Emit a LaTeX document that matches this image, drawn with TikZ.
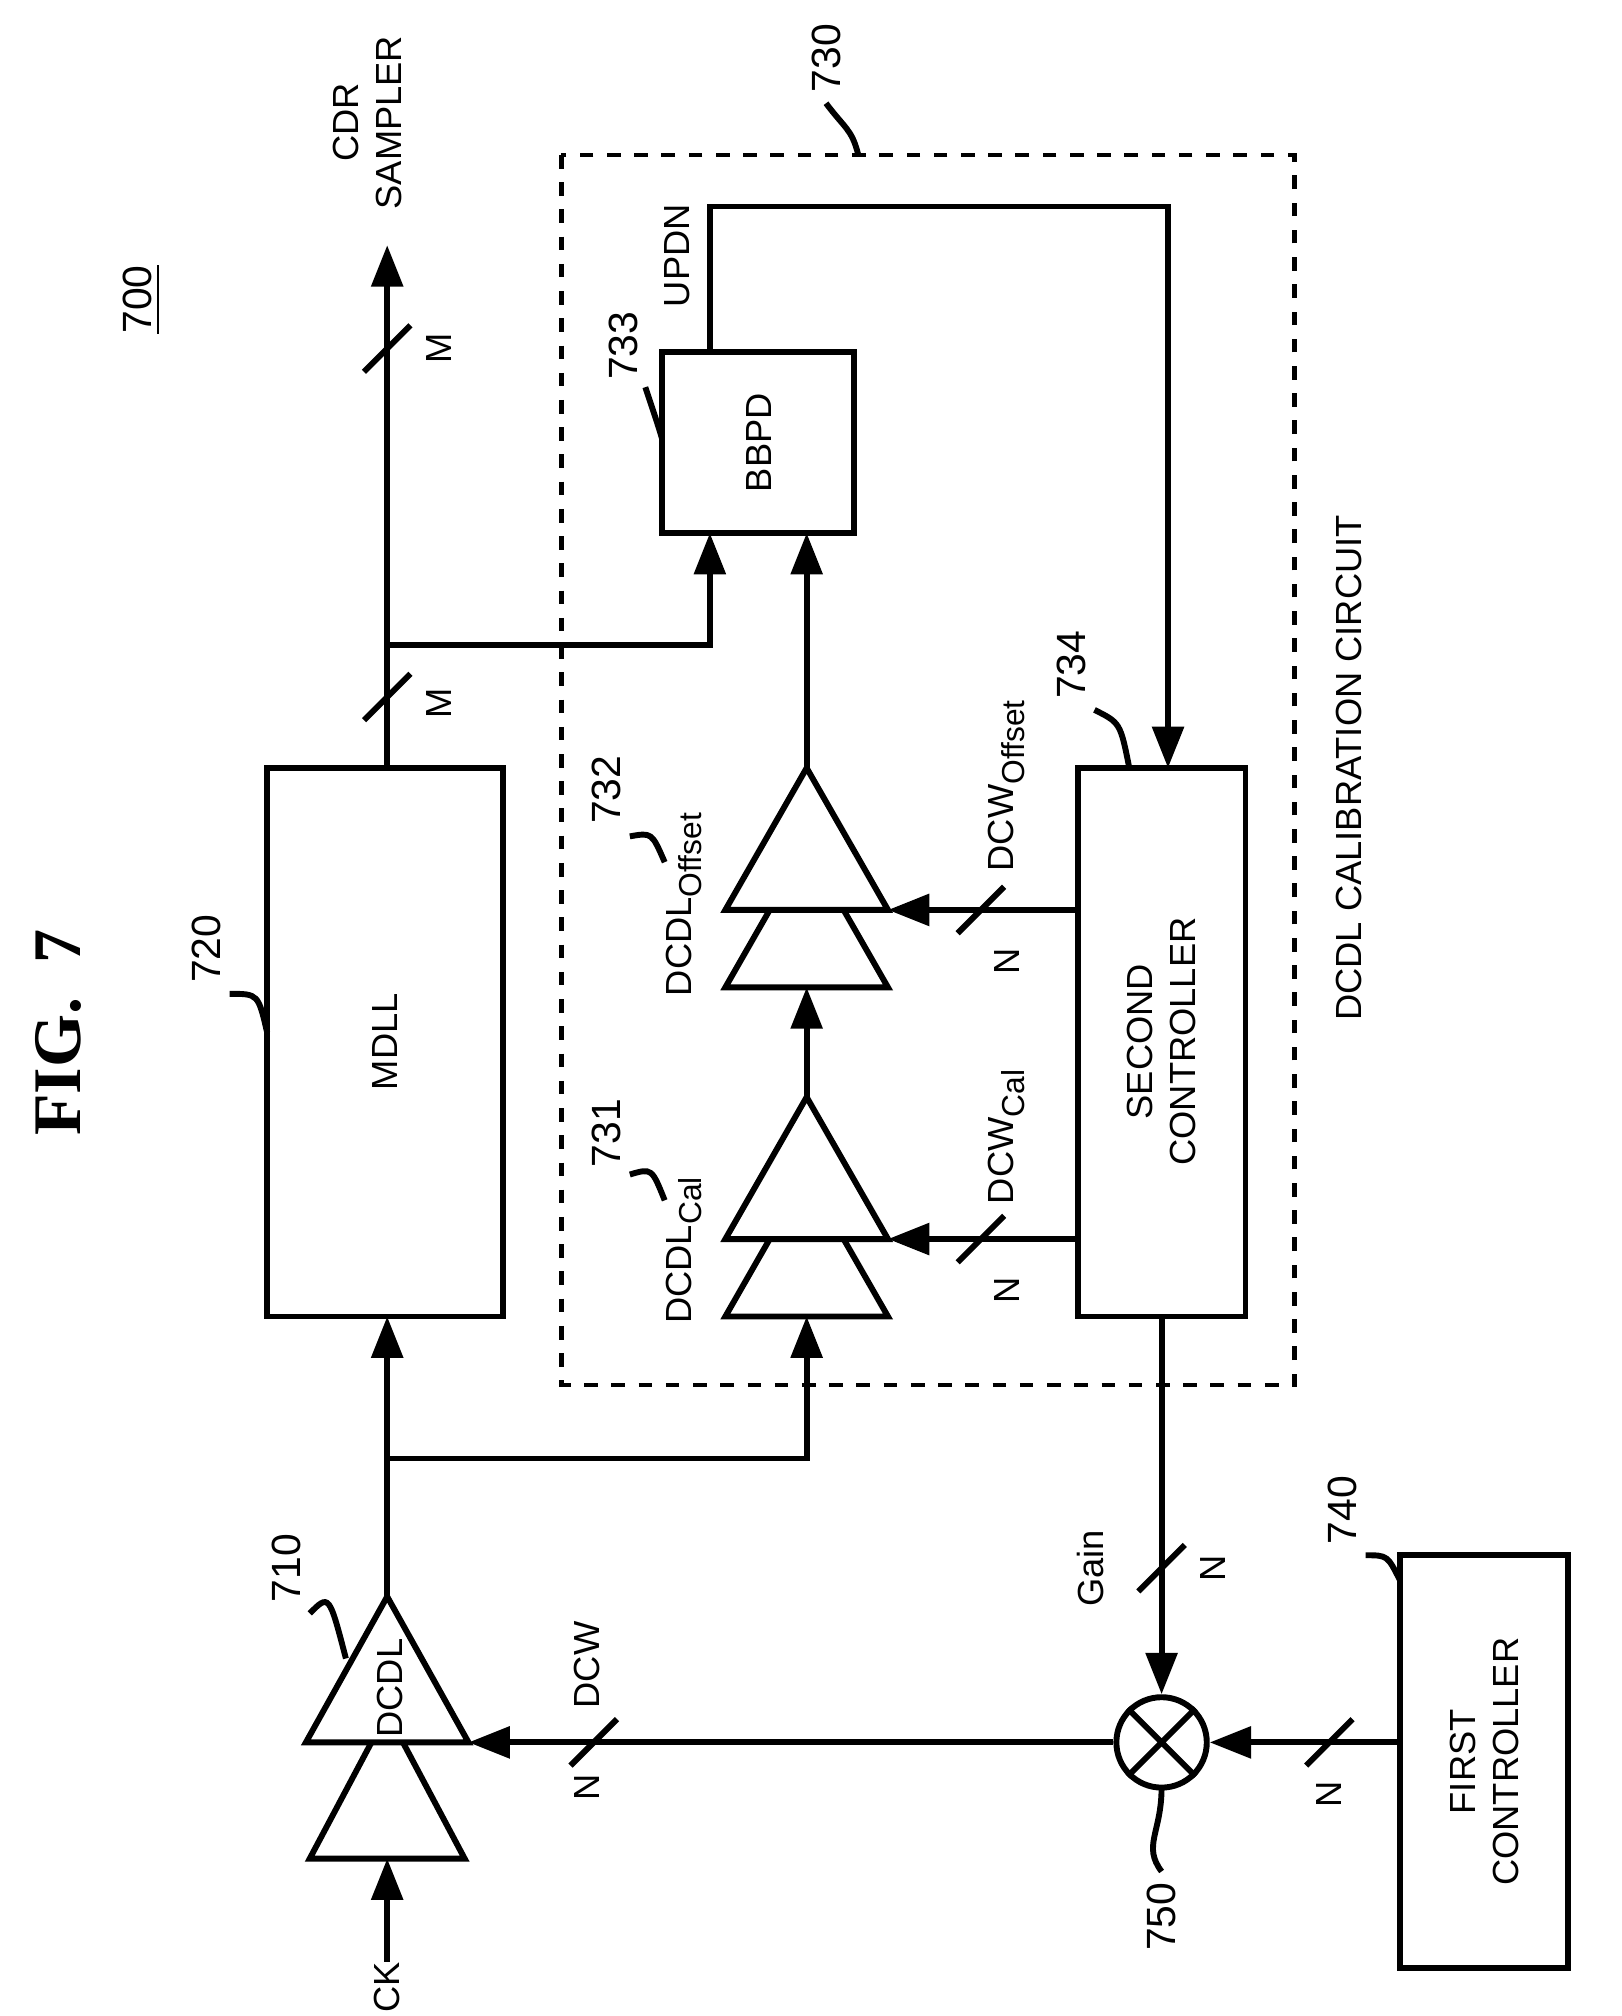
\documentclass[tikz,border=0pt]{standalone}
\usepackage{fontspec}
\setmainfont{Liberation Sans}
\newfontfamily\titlefont{Liberation Serif}
\usetikzlibrary{arrows.meta,calc}
\begin{document}
\begin{tikzpicture}[x=0.01cm,y=0.01cm,line width=1.3pt,
  arr/.style={-{Triangle[length=0.32cm,width=0.24cm]}},
  box/.style={draw,fill=white},
  lbl/.style={rotate=90,font=\footnotesize},
  refn/.style={rotate=90,font=\small},
  tri/.style={draw,fill=white,line join=miter}]
\useasboundingbox (0,0) rectangle (1256,-1562);
% title and figure number
\node[rotate=90,font=\fontsize{15}{15}\titlefont\bfseries\selectfont] (fig) at (45,-800) {FIG.~~7};
\node[refn] (n700) at (110,-232) {\underline{700}};
\node[lbl,align=center] (cdr) at (285,-95) {CDR\\SAMPLER};
% calibration frame
\draw[dashed,line width=1pt] (435,-120) rectangle (1003,-1073);
\node[lbl] (calname) at (1045,-595) {DCDL CALIBRATION CIRCUIT};
% blocks
\draw[box] (207,-595) rectangle (390,-1020);
\node[lbl] (mdll) at (298,-807) {MDLL};
\draw[box] (513,-273) rectangle (662,-413);
\node[lbl] (bbpd) at (588,-343) {BBPD};
\draw[box] (835,-595) rectangle (965,-1020);
\node[lbl,align=center] (sec) at (900,-807) {SECOND\\CONTROLLER};
\draw[box] (1085,-1205) rectangle (1215,-1525);
\node[lbl,align=center] (first) at (1150,-1365) {FIRST\\CONTROLLER};
% delay lines
\draw[tri] (240,-1440) -- (300,-1327) -- (360,-1440) -- cycle;
\draw[tri] (237,-1350) -- (300,-1237) -- (363,-1350) -- cycle;
\node[lbl] (dcdl) at (302,-1308) {DCDL};
\foreach \y in {850,595}{
  \draw[tri] (562,-\y-170) -- (625,-\y-60) -- (688,-\y-170) -- cycle;
  \draw[tri] (562,-\y-110) -- (625,-\y) -- (688,-\y-110) -- cycle;
}
\node[lbl] (cal) at (530,-968) {DCDL$_{\hbox{\scriptsize Cal}}$};
\node[lbl] (off) at (530,-700) {DCDL$_{\hbox{\scriptsize Offset}}$};
% multiplier
\node[draw,circle,minimum size=0.7cm,inner sep=0pt] (mul) at (900,-1350) {};
\draw (mul.north west) -- (mul.south east) (mul.north east) -- (mul.south west);
% signal wires
\coordinate (ck) at (300,-1520);
\node[lbl] (cklbl) at (300,-1540) {CK};
\draw[arr] (ck) -- (300,-1440);
\draw[arr] (300,-1237) -- (300,-1020);
\draw[arr] (300,-1130) -- (625,-1130) -- (625,-1020);
\draw[arr] (300,-595) -- (300,-190);
\draw[arr] (300,-500) -- (550,-500) -- (550,-413);
\draw[arr] (550,-273) -- (550,-160) -- (905,-160) -- (905,-595);
\draw[arr] (625,-850) -- (625,-765);
\draw[arr] (625,-595) -- (625,-413);
\draw[arr] (835,-960) -- (688,-960);
\draw[arr] (835,-705) -- (688,-705);
\draw[arr] (900,-1020) -- (mul.north);
\draw[arr] (1085,-1350) -- (mul.east);
\draw[arr] (mul.west) -- (363,-1350);
% bus slashes
\foreach \x/\y in {300/-540,300/-270,900/-1215}
  \draw (\x-18,\y-18) -- (\x+18,\y+18);
\foreach \x/\y in {460/-1350,1030/-1350,760/-960,760/-705}
  \draw (\x-18,\y-18) -- (\x+18,\y+18);
\node[lbl] at (340,-545) {M};
\node[lbl] at (340,-270) {M};
\node[lbl] at (940,-1215) {N};
\node[lbl] at (845,-1215) {Gain};
\node[lbl] at (455,-1385) {N};
\node[lbl] at (455,-1290) {DCW};
\node[lbl] at (1030,-1390) {N};
\node[lbl] at (780,-1000) {N};
\node[lbl] at (780,-880) {DCW$_{\hbox{\scriptsize Cal}}$};
\node[lbl] at (780,-745) {N};
\node[lbl] at (780,-608) {DCW$_{\hbox{\scriptsize Offset}}$};
\node[lbl] at (525,-198) {UPDN};
% reference numerals
\node[refn] (r710) at (222,-1215) {710};
\draw (240,-1250) .. controls (255,-1235) .. (268,-1285);
\node[refn] (r720) at (160,-735) {720};
\draw (178,-770) .. controls (200,-770) .. (207,-800);
\node[refn] (r730) at (640,-45) {730};
\draw (640,-80) .. controls (655,-100) and (660,-100) .. (665,-120);
\node[refn] (r731) at (470,-878) {731};
\draw (488,-910) .. controls (505,-905) .. (515,-930);
\node[refn] (r732) at (470,-612) {732};
\draw (488,-648) .. controls (505,-645) .. (515,-668);
\node[refn] (r733) at (483,-268) {733};
\draw (500,-300) .. controls (510,-330) .. (513,-340);
\node[refn] (r734) at (830,-515) {734};
\draw (848,-550) .. controls (868,-560) .. (875,-595);
\node[refn] (r740) at (1040,-1170) {740};
\draw (1058,-1205) .. controls (1075,-1205) .. (1085,-1225);
\node[refn] (r750) at (900,-1485) {750};
\draw (900,-1385) .. controls (900,-1420) and (885,-1430) .. (900,-1450);
\end{tikzpicture}
\end{document}
